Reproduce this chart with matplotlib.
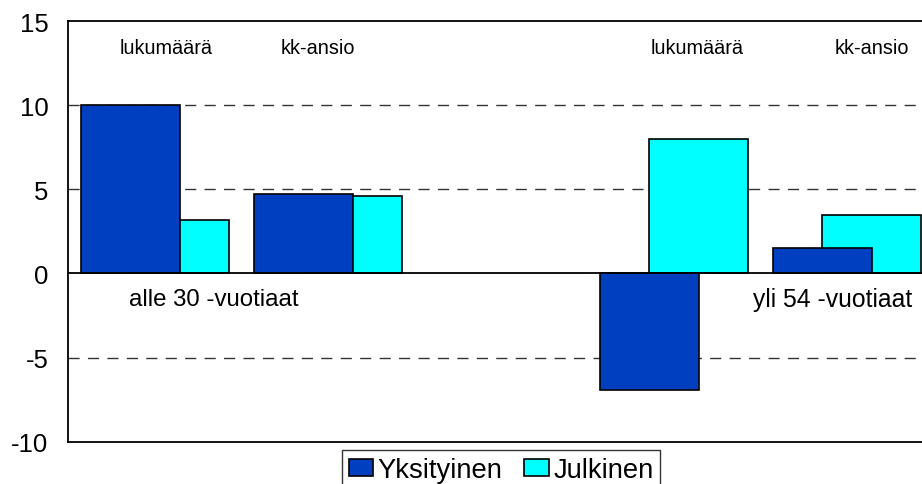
import matplotlib
matplotlib.use("Agg")
import matplotlib.pyplot as plt
import numpy as np

categories = ["lukumäärä", "kk-ansio", "", "lukumäärä", "kk-ansio"]
yksityinen = [10.0, 4.7, np.nan, -6.9, 1.5]
julkinen = [3.2, 4.6, np.nan, 8.0, 3.5]
series_names = ["Yksityinen", "Julkinen"]
group_labels = ["alle 30 -vuotiaat", "yli 54 -vuotiaat"]
yticks = [-10, -5, 0, 5, 10, 15]

plt.rcParams['font.family'] = ['Liberation Sans', 'DejaVu Sans']

W, H = 922, 485
fig = plt.figure(figsize=(W / 100, H / 100), dpi=100)
ax_left, ax_right, ax_top, ax_bottom = 68, 934, 22, 442.7
ax = fig.add_axes([ax_left / W, (H - ax_bottom) / H, (ax_right - ax_left) / W, (ax_bottom - ax_top) / H])

x = np.arange(len(categories))
width = 0.571
offset = 0.1415
ax.bar(x + offset, julkinen, width, color="#00FFFF", edgecolor="black", linewidth=1.2, zorder=3, label=series_names[1])
ax.bar(x - offset, yksityinen, width, color="#0040C0", edgecolor="black", linewidth=1.2, zorder=4, label=series_names[0])

ax.set_xlim(-0.5, len(categories) - 0.5)
ax.set_ylim(-10, 15)
ax.set_yticks(yticks)
ax.set_yticklabels([str(t) for t in yticks], fontsize=18.5)
ax.tick_params(axis='y', length=0, pad=14)
ax.set_xticks([])

for yv in [5, 10, -5]:
    ax.axhline(yv, color="#333333", linewidth=1.0, linestyle=(0, (8, 6)), zorder=1)
ax.axhline(0, color="black", linewidth=1.3, zorder=5)

for sp in ax.spines.values():
    sp.set_color("black")
    sp.set_linewidth(1.3)

# category labels at top
label_pos = [0.065, 0.943, None, 3.13, 4.14]
for lbl, px in zip(categories, label_pos):
    if px is not None and lbl:
        ax.text(px, 13.42, lbl, ha="center", va="center", fontsize=14.3)

ax.text(-0.148, -1.5, group_labels[0], ha="left", va="center", fontsize=17.3)
ax.text(3.453, -1.5, group_labels[1], ha="left", va="center", fontsize=17.8)

handles, labels = ax.get_legend_handles_labels()
order = [1, 0]
leg = ax.legend([handles[i] for i in order], [labels[i] for i in order],
                loc="upper left", bbox_to_anchor=(342 / W, (H - 451) / H),
                bbox_transform=fig.transFigure, ncol=2, fontsize=19.7,
                frameon=True, fancybox=False, edgecolor="black",
                handlelength=0.9, handleheight=0.6, handletextpad=0.15,
                columnspacing=0.8, borderpad=0.25, borderaxespad=0)
leg.get_frame().set_linewidth(1.0)

fig.savefig("out.png", dpi=100)
